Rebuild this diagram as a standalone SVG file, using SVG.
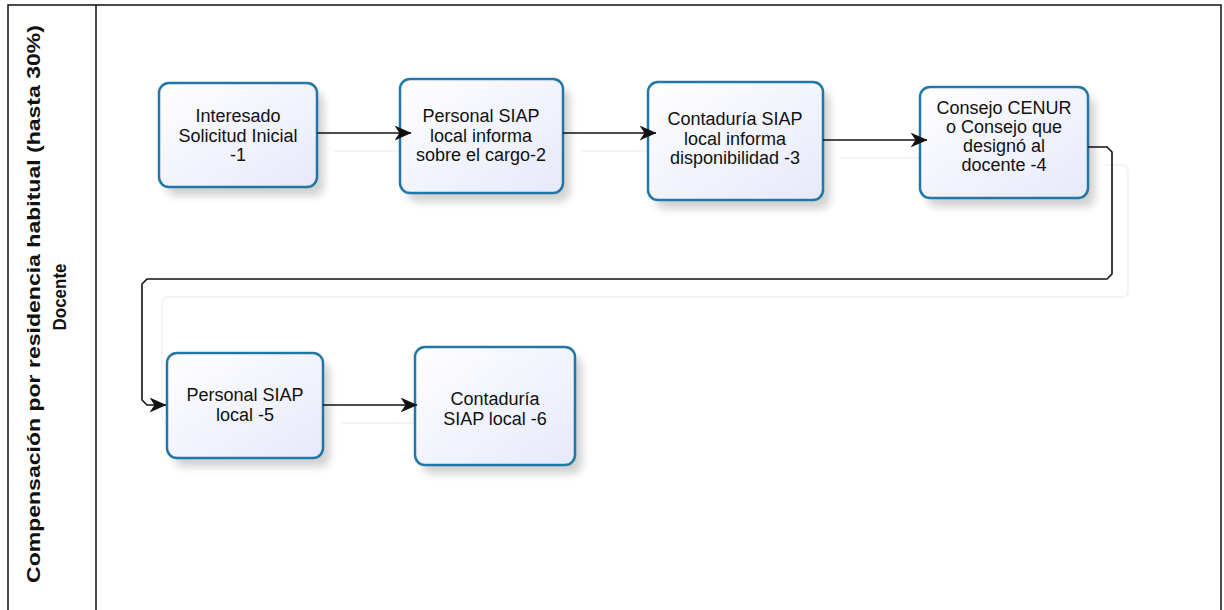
<svg xmlns="http://www.w3.org/2000/svg" width="1224" height="610" viewBox="0 0 1224 610">
<style>
.box{fill:url(#g);stroke:#2277a6;stroke-width:2.5}
.sh{fill:#000;opacity:0.18;filter:url(#blur)}
.t{font-family:"Liberation Sans",Arial,sans-serif;font-size:18px;fill:#111;text-anchor:middle}
.c{fill:none;stroke:#111;stroke-width:1.6}
.ghost{fill:none;stroke:#f4f4f4;stroke-width:2}
.lane{fill:none;stroke:#111;stroke-width:1.5}
.title{font-family:"Liberation Sans",Arial,sans-serif;font-size:18px;font-weight:bold;fill:#111;text-anchor:middle}
</style>
<defs>
<linearGradient id="g" x1="0" y1="0" x2="1" y2="1">
<stop offset="0" stop-color="#ffffff"/>
<stop offset="1" stop-color="#e6e9fa"/>
</linearGradient>
<filter id="blur" x="-20%" y="-20%" width="140%" height="140%"><feGaussianBlur stdDeviation="4"/></filter>
<marker id="a" viewBox="0 0 17 15" refX="16.5" refY="7.5" markerWidth="17" markerHeight="15" markerUnits="userSpaceOnUse" orient="auto">
<path d="M0,0 L17,7.5 L0,15 L5,7.5 Z" fill="#111"/>
</marker>
</defs>
<rect width="1224" height="610" fill="#fff"/>
<g id="lane">
<path class="lane" d="M8,612 V5 H1221 V612"/>
<line class="lane" x1="96" y1="5" x2="96" y2="612"/>
<text class="title" transform="translate(40,304) rotate(-90)" textLength="558" lengthAdjust="spacingAndGlyphs">Compensación por residencia habitual  (hasta 30%)</text>
<text class="title" transform="translate(66,297) rotate(-90)" textLength="67" lengthAdjust="spacingAndGlyphs">Docente</text>
</g>
<g id="ghosts">
<path class="ghost" d="M334,151 H417"/>
<path class="ghost" d="M580,151 H665"/>
<path class="ghost" d="M840,158 H937"/>
<path class="ghost" d="M1105,165 H1122 Q1128,165 1128,171 V291 Q1128,297 1122,297 H168 Q162,297 162,303 V417 Q162,423 168,423 H184"/>
<path class="ghost" d="M340,423 H432"/>
</g>
<g id="n1">
<rect class="sh" x="166" y="92" width="158" height="104" rx="10"/>
<rect class="box" x="159" y="83" width="158" height="104" rx="10"/>
<text class="t" x="238" y="122">Interesado</text>
<text class="t" x="238" y="141.5">Solicitud Inicial</text>
<text class="t" x="238" y="161">-1</text>
</g>
<g id="n2">
<rect class="sh" x="407" y="88" width="163" height="114" rx="10"/>
<rect class="box" x="400" y="79" width="163" height="114" rx="10"/>
<text class="t" x="481" y="122">Personal SIAP</text>
<text class="t" x="481" y="141.5">local informa</text>
<text class="t" x="481" y="161">sobre el cargo-2</text>
</g>
<g id="n3">
<rect class="sh" x="655" y="91" width="175" height="118" rx="10"/>
<rect class="box" x="648" y="82" width="175" height="118" rx="10"/>
<text class="t" x="735" y="125">Contaduría SIAP</text>
<text class="t" x="735" y="144.5">local informa</text>
<text class="t" x="735" y="164">disponibilidad -3</text>
</g>
<g id="n4">
<rect class="sh" x="927" y="96" width="168" height="111" rx="10"/>
<rect class="box" x="920" y="87" width="168" height="111" rx="10"/>
<text class="t" x="1004" y="114">Consejo CENUR</text>
<text class="t" x="1004" y="133">o Consejo que</text>
<text class="t" x="1004" y="152">designó al</text>
<text class="t" x="1004" y="171">docente -4</text>
</g>
<g id="n5">
<rect class="sh" x="174" y="362" width="156" height="105" rx="10"/>
<rect class="box" x="167" y="353" width="156" height="105" rx="10"/>
<text class="t" x="245" y="401">Personal SIAP</text>
<text class="t" x="245" y="421">local -5</text>
</g>
<g id="n6">
<rect class="sh" x="422" y="356" width="160" height="118" rx="10"/>
<rect class="box" x="415" y="347" width="160" height="118" rx="10"/>
<text class="t" x="495" y="405">Contaduría</text>
<text class="t" x="495" y="425">SIAP local -6</text>
</g>
<g id="connectors">
<path class="c" d="M317,133 H411" marker-end="url(#a)"/>
<path class="c" d="M563,133 H656" marker-end="url(#a)"/>
<path class="c" d="M823,140 H927" marker-end="url(#a)"/>
<path class="c" d="M1088,147 H1107 L1112,152 V274 L1107,279 H147 L142,284 V400 L147,405 H166" marker-end="url(#a)"/>
<path class="c" d="M323,405 H417" marker-end="url(#a)"/>
</g>
</svg>
